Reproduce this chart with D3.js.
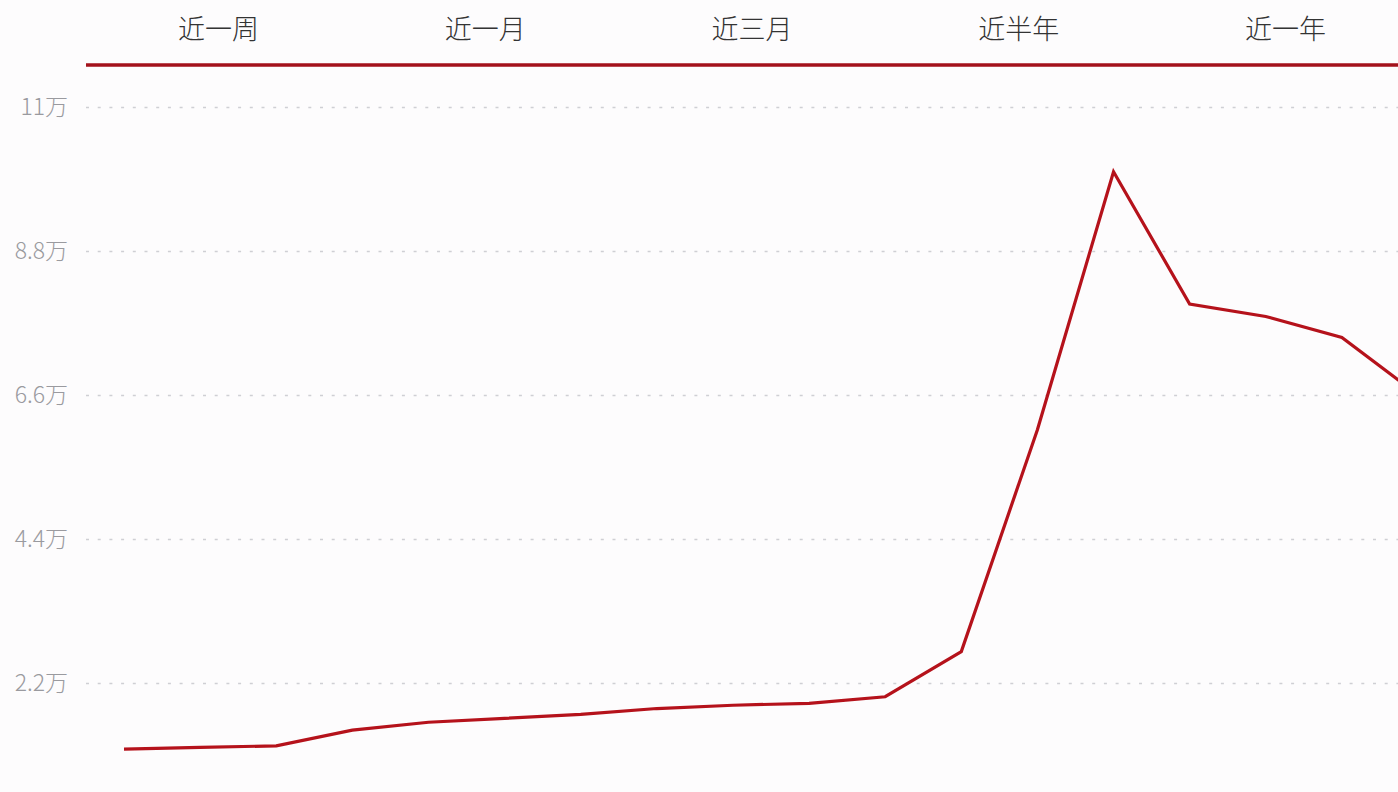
<!DOCTYPE html>
<html>
<head>
<meta charset="utf-8">
<script src="https://cdn.jsdelivr.net/npm/d3@7"></script>
<style>
  html, body { margin: 0; padding: 0; background: #fdfcfd; overflow: hidden; }
  svg { display: block; }
</style>
</head>
<body>
<script>
// ---- data ----
const tabs = ["近一周", "近一月", "近三月", "近半年", "近一年"];
const periods = ["1", "2", "3", "4", "5", "6", "7", "8", "9", "10", "11", "12", "13", "14", "15", "16", "17", "18"];
const values = [1.19, 1.215, 1.24, 1.48, 1.60, 1.66, 1.72, 1.81, 1.86, 1.89, 1.99, 2.68, 6.07, 10.01, 7.99, 7.80, 7.48, 6.60];
const yTicks = [2.2, 4.4, 6.6, 8.8, 11];
const yTickLabels = ["2.2万", "4.4万", "6.6万", "8.8万", "11万"];

const W = 1398, H = 792;
const font = "'Noto Sans CJK SC', 'Noto Sans', sans-serif";

const svg = d3.select("body").append("svg")
  .attr("width", W).attr("height", H);

svg.append("rect").attr("width", W).attr("height", H).attr("fill", "#fdfcfd");

// tabs
const tabScale = d3.scaleBand().domain(tabs).range([85, 1419]);
svg.append("g").selectAll("text").data(tabs).join("text")
  .attr("x", d => tabScale(d) + tabScale.bandwidth() / 2)
  .attr("y", 27)
  .attr("text-anchor", "middle")
  .attr("dominant-baseline", "central")
  .attr("font-family", font)
  .attr("font-size", 27)
  .attr("font-weight", 300)
  .attr("fill", "#333")
  .text(d => d);

svg.append("line")
  .attr("x1", 86).attr("x2", W)
  .attr("y1", 65).attr("y2", 65)
  .attr("stroke", "#a3121b").attr("stroke-width", 3.5);

// scales
const x = d3.scalePoint().domain(periods).range([124, 1418]);
const y = d3.scaleLinear().domain([0, 11]).range([827, 107]);

// y axis with gridlines
const yAxis = d3.axisLeft(y)
  .tickValues(yTicks)
  .tickSize(-(W - 86))
  .tickPadding(18)
  .tickFormat((d, i) => yTickLabels[i]);

const gy = svg.append("g").attr("transform", "translate(86,0)").call(yAxis);
gy.select(".domain").remove();
gy.selectAll(".tick line")
  .attr("stroke", "#cfcfd4")
  .attr("stroke-width", 1.5)
  .attr("stroke-dasharray", "3,8.7");
gy.selectAll(".tick text")
  .attr("font-family", font)
  .attr("font-size", 23)
  .attr("font-weight", 300)
  .attr("fill", "#9a9a9f");

// line
const line = d3.line()
  .x((d, i) => x(periods[i]))
  .y(d => y(d));

svg.append("path")
  .datum(values)
  .attr("d", line)
  .attr("fill", "none")
  .attr("stroke", "#b5121b")
  .attr("stroke-width", 3.2)
  .attr("stroke-linejoin", "miter");
</script>
</body>
</html>
